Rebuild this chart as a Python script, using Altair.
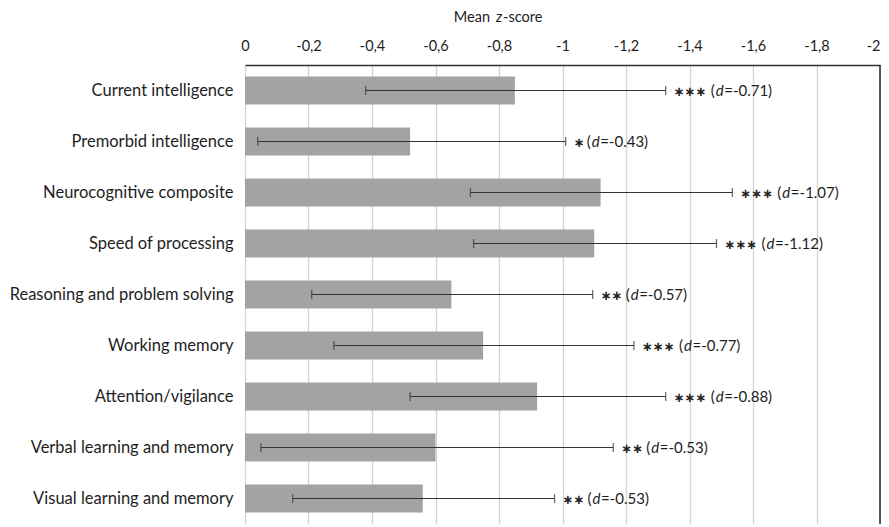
import altair as alt
import pandas as pd

categories = [
    "Current intelligence",
    "Premorbid intelligence",
    "Neurocognitive composite",
    "Speed of processing",
    "Reasoning and problem solving",
    "Working memory",
    "Attention/vigilance",
    "Verbal learning and memory",
    "Visual learning and memory",
]
means = [-0.85, -0.52, -1.12, -1.10, -0.65, -0.75, -0.92, -0.60, -0.56]
err_lo = [-0.38, -0.04, -0.71, -0.72, -0.21, -0.28, -0.52, -0.05, -0.15]
err_hi = [-1.325, -1.01, -1.535, -1.485, -1.095, -1.225, -1.325, -1.16, -0.975]
stars = ["***", "*", "***", "***", "**", "***", "***", "**", "**"]
d_values = ["-0.71", "-0.43", "-1.07", "-1.12", "-0.57", "-0.77", "-0.88", "-0.53", "-0.53"]
tick_values = [0, -0.2, -0.4, -0.6, -0.8, -1, -1.2, -1.4, -1.6, -1.8, -2]

df = pd.DataFrame({
    "cat": categories,
    "mean": means,
    "lo": err_lo,
    "hi": err_hi,
    "stars": [s.replace("*", "\u2217") for s in stars],
    "n": [len(s) for s in stars],
    "rest": ["=" + v + ")" for v in d_values],
})

FONT = "Lato"
W, H = 635, 459

xscale = alt.Scale(domain=[-2, 0], reverse=True, nice=False, zero=False)
yenc = alt.Y("cat:N", sort=categories, title=None,
             scale=alt.Scale(paddingInner=0.45, paddingOuter=0.225),
             axis=alt.Axis(domain=False, ticks=False, labelFont=FONT, labelFontSize=16.5,
                           labelColor="#1e1e1e", labelPadding=12, labelLimit=300))

base = alt.Chart(df)

bars = base.mark_bar(color="#a3a3a3").encode(
    x=alt.X("mean:Q", scale=xscale, title=None,
            axis=alt.Axis(orient="top", values=tick_values, ticks=False,
                          domainColor="#333333", domainWidth=1.5,
                          gridColor="#d4d4d4", gridWidth=1.3,
                          labelFont=FONT, labelFontSize=14.5, labelColor="#1e1e1e",
                          labelPadding=12, labelFlush=False,
                          labelAlign={"condition": {"test": "datum.value <= -1.99", "value": "right"},
                                      "value": "center"},
                          labelExpr="datum.value == 0 ? '0' : '-' + replace(format(-datum.value, '.1~f'), '.', ',')")),
    y=yenc,
)

errs = base.mark_rule(color="#333333", strokeWidth=1.2).encode(
    x="lo:Q", x2="hi:Q", y=alt.Y("cat:N", sort=categories),
)
cap_lo = base.mark_tick(color="#333333", size=9, thickness=1.3).encode(
    x="lo:Q", y=alt.Y("cat:N", sort=categories))
cap_hi = base.mark_tick(color="#333333", size=9, thickness=1.3).encode(
    x="hi:Q", y=alt.Y("cat:N", sort=categories))

border = alt.Chart(pd.DataFrame({"v": [-2]})).mark_rule(color="#333333", strokeWidth=1.6).encode(
    x="v:Q")

star_txt = base.mark_text(align="left", baseline="middle", dx=8, dy=1, font="DejaVu Sans",
                          fontSize=13, fontWeight="bold", color="#222222").encode(
    x="hi:Q", y=alt.Y("cat:N", sort=categories), text="stars:N")

layers = [bars, errs, cap_lo, cap_hi, border, star_txt]
for k in (1, 2, 3):
    off = 8 + 12 * k + 1
    sub = base.transform_filter(f"datum.n == {k}")
    layers.append(sub.mark_text(align="left", baseline="middle", dx=off, font=FONT,
                                fontSize=15, color="#1e1e1e", text="(").encode(
        x="hi:Q", y=alt.Y("cat:N", sort=categories)))
    layers.append(sub.mark_text(align="left", baseline="middle", dx=off + 5, font=FONT,
                                fontSize=15, fontStyle="italic", color="#1e1e1e", text="d").encode(
        x="hi:Q", y=alt.Y("cat:N", sort=categories)))
    layers.append(sub.mark_text(align="left", baseline="middle", dx=off + 13.5, font=FONT,
                                fontSize=15, color="#1e1e1e").encode(
        x="hi:Q", y=alt.Y("cat:N", sort=categories), text="rest:N"))

title_df = pd.DataFrame({"t": ["x"]})
t1 = alt.Chart(title_df).mark_text(align="right", baseline="middle", font=FONT, fontSize=14.5,
                                   color="#1e1e1e", text="Mean").encode(
    x=alt.value(245), y=alt.value(-47))
t2 = alt.Chart(title_df).mark_text(align="center", baseline="middle", font=FONT, fontSize=14.5,
                                   fontStyle="italic", color="#1e1e1e", text="z").encode(
    x=alt.value(254), y=alt.value(-47))
t3 = alt.Chart(title_df).mark_text(align="left", baseline="middle", font=FONT, fontSize=14.5,
                                   color="#1e1e1e", text="-score").encode(
    x=alt.value(258), y=alt.value(-47))
layers += [t1, t2, t3]

chart = alt.layer(*layers).properties(
    width=W, height=H,
    autosize=alt.AutoSizeParams(type="none"),
    padding={"left": 237, "top": 57, "right": 1, "bottom": 0},
).configure_view(stroke=None).configure(background="white")

chart.save("out.html", embed_options={"renderer": "svg", "actions": False})
